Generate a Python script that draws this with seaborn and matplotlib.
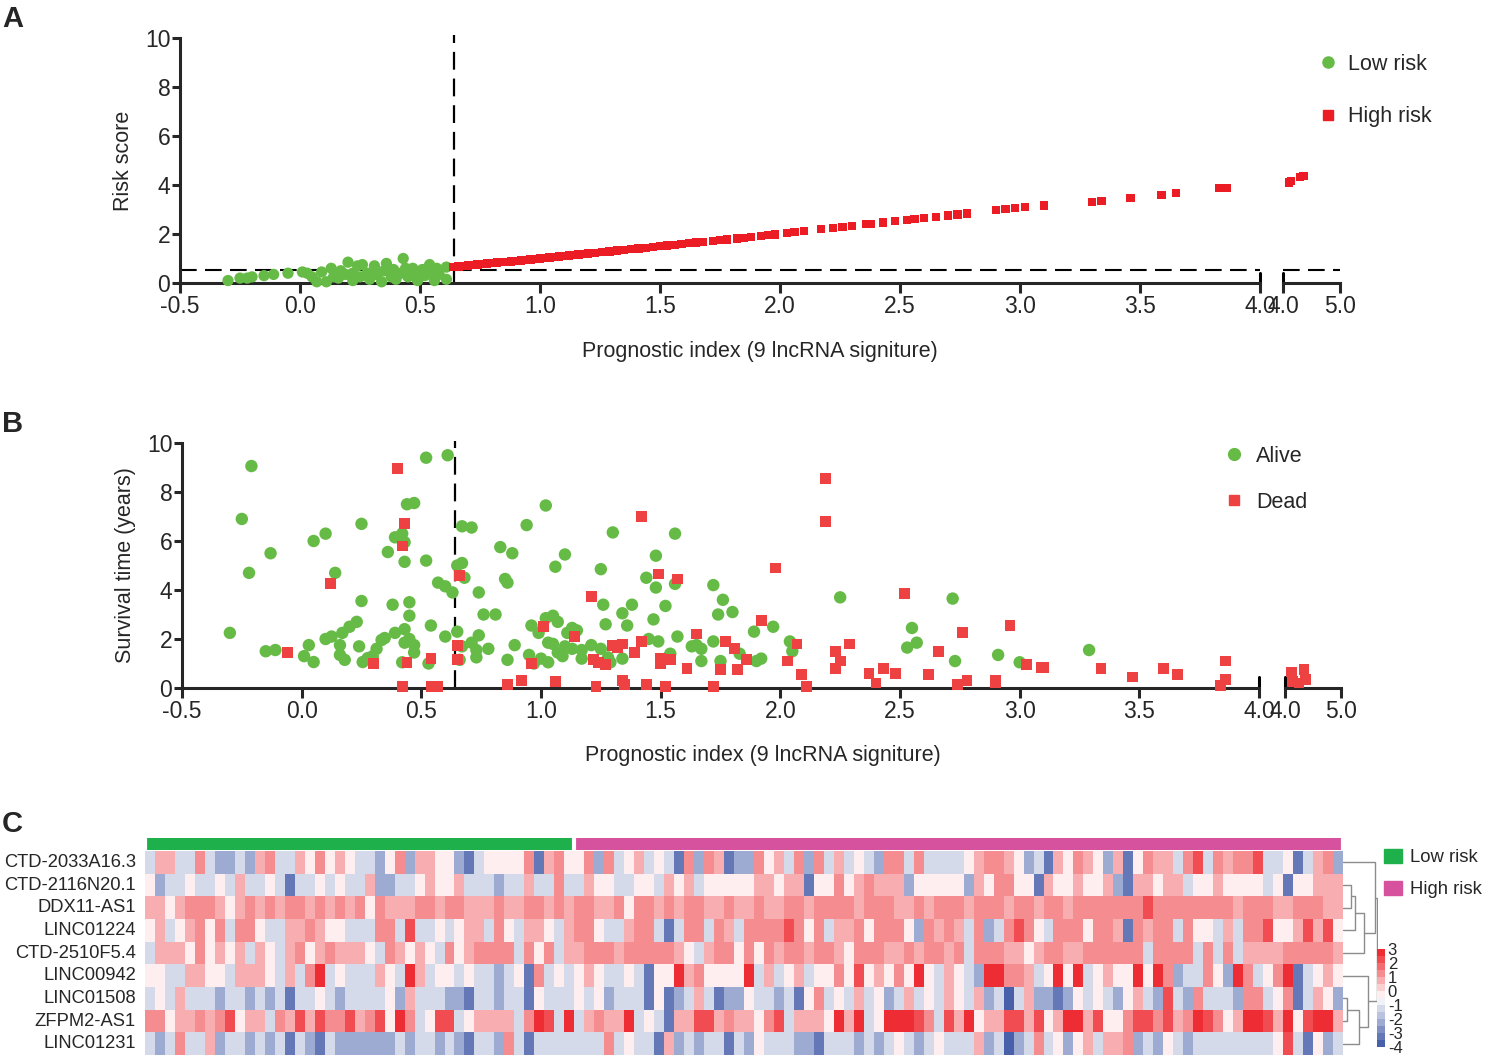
import numpy as np
import pandas as pd
import matplotlib
matplotlib.use("Agg")
import matplotlib.pyplot as plt
import seaborn as sns
from matplotlib.colors import LinearSegmentedColormap, ListedColormap, Normalize
from matplotlib.cm import ScalarMappable
from matplotlib.lines import Line2D
from matplotlib.patches import Patch

sns.set_style("ticks")
plt.rcParams['font.family'] = ['Liberation Sans', 'DejaVu Sans']
plt.rcParams['axes.unicode_minus'] = False

# ---- Panel A: risk score vs prognostic index ----
low_pi = [-0.30, -0.25, -0.22, -0.20, -0.15, -0.11, -0.05, 0.01, 0.03, 0.05, 0.07, 0.09, 0.11,
          0.13, 0.14, 0.16, 0.17, 0.19, 0.20, 0.22, 0.22, 0.24, 0.25, 0.26, 0.28, 0.29, 0.31,
          0.32, 0.34, 0.35, 0.36, 0.38, 0.39, 0.40, 0.42, 0.43, 0.44, 0.45, 0.47, 0.48, 0.49,
          0.51, 0.52, 0.54, 0.55, 0.56, 0.57, 0.58, 0.61, 0.61]
low_score = [0.10, 0.20, 0.20, 0.25, 0.30, 0.35, 0.40, 0.45, 0.40, 0.25, 0.05, 0.45, 0.05,
             0.60, 0.25, 0.20, 0.50, 0.35, 0.85, 0.40, 0.10, 0.70, 0.25, 0.75, 0.40, 0.15, 0.70,
             0.35, 0.05, 0.50, 0.80, 0.25, 0.55, 0.15, 0.40, 1.00, 0.60, 0.25, 0.60, 0.35, 0.10,
             0.55, 0.30, 0.75, 0.40, 0.10, 0.60, 0.35, 0.65, 0.15]

high_pi = [0.64, 0.66, 0.68, 0.70, 0.72, 0.74, 0.76, 0.78, 0.80, 0.82, 0.84, 0.86, 0.88, 0.90,
           0.92, 0.94, 0.96, 0.98, 1.00, 1.02, 1.04, 1.06, 1.08, 1.10, 1.12, 1.14, 1.16, 1.18,
           1.20, 1.23, 1.26, 1.29, 1.32, 1.35, 1.38, 1.41, 1.44, 1.47, 1.50, 1.53, 1.56, 1.59,
           1.62, 1.65, 1.68, 1.72, 1.75, 1.78, 1.82, 1.85, 1.88, 1.92, 1.95, 1.98, 2.03, 2.06,
           2.10, 2.17, 2.22, 2.26, 2.30, 2.36, 2.38, 2.43, 2.48, 2.53, 2.56, 2.60, 2.65, 2.70,
           2.74, 2.78, 2.90, 2.94, 2.98, 3.02, 3.10, 3.30, 3.34, 3.46, 3.59, 3.65, 3.83, 3.86,
           4.10, 4.14, 4.30, 4.36]
high_score = [0.66, 0.67, 0.69, 0.71, 0.73, 0.75, 0.77, 0.79, 0.81, 0.83, 0.85, 0.86, 0.88, 0.90,
              0.92, 0.94, 0.96, 0.98, 1.00, 1.02, 1.04, 1.06, 1.08, 1.10, 1.12, 1.14, 1.16, 1.18,
              1.20, 1.23, 1.26, 1.29, 1.32, 1.35, 1.38, 1.41, 1.44, 1.47, 1.50, 1.53, 1.56, 1.59,
              1.62, 1.65, 1.68, 1.72, 1.75, 1.78, 1.82, 1.85, 1.88, 1.92, 1.95, 1.98, 2.05, 2.08,
              2.12, 2.20, 2.25, 2.29, 2.33, 2.40, 2.42, 2.47, 2.52, 2.58, 2.61, 2.65, 2.70, 2.75,
              2.80, 2.84, 2.97, 3.01, 3.05, 3.09, 3.16, 3.30, 3.34, 3.47, 3.60, 3.66, 3.87, 3.89,
              4.10, 4.15, 4.32, 4.37]

# ---- Panel B: survival time vs prognostic index ----
alive_pi = [-0.21, -0.25, -0.22, -0.13, -0.30, -0.15, -0.11, 0.05, 0.10, 0.14, 0.25, 0.25, 0.03,
            0.01, 0.05, 0.10, 0.125, 0.17, 0.20, 0.23, 0.16, 0.16, 0.18, 0.24, 0.255, 0.276, 0.297,
            0.313, 0.334, 0.347, 0.38, 0.36, 0.39, 0.42, 0.43, 0.44, 0.47, 0.52, 0.61, 0.43, 0.52,
            0.45, 0.45, 0.43, 0.45, 0.43, 0.47, 0.47, 0.39, 0.42, 0.54, 0.53, 0.57, 0.60, 0.63,
            0.60, 0.65, 0.67, 0.71, 0.65, 0.67, 0.68, 0.67, 0.66, 0.71, 0.73, 0.73, 0.74, 0.74,
            0.76, 0.81, 0.78, 0.83, 0.88, 0.85, 0.86, 0.89, 0.86, 0.94, 1.02, 0.96, 0.99, 1.02,
            1.05, 1.07, 0.95, 0.97, 1.00, 1.03, 1.03, 1.05, 1.07, 1.09, 1.10, 1.06, 1.10, 1.13,
            1.17, 1.17, 1.11, 1.13, 1.15, 1.21, 1.25, 1.28, 1.29, 1.25, 1.26, 1.27, 1.30, 1.34,
            1.36, 1.38, 1.34, 1.44, 1.48, 1.48, 1.47, 1.45, 1.49, 1.54, 1.52, 1.56, 1.56, 1.57,
            1.63, 1.65, 1.67, 1.67, 1.72, 1.75, 1.72, 1.76, 1.74, 1.80, 1.83, 1.89, 1.90, 1.92,
            1.97, 2.04, 2.05, 2.25, 2.55, 2.57, 2.53, 2.72, 2.73, 2.91, 3.00, 3.29]
alive_time = [9.06, 6.90, 4.70, 5.50, 2.25, 1.50, 1.55, 6.00, 6.30, 4.70, 6.70, 3.55, 1.75,
              1.30, 1.06, 2.00, 2.10, 2.25, 2.50, 2.70, 1.75, 1.35, 1.15, 1.70, 1.06, 1.22, 1.30,
              1.60, 1.96, 2.04, 3.40, 5.55, 6.15, 6.30, 5.95, 7.50, 7.55, 9.40, 9.50, 5.15, 5.20,
              3.50, 2.95, 2.40, 2.00, 1.85, 1.75, 1.45, 2.25, 1.05, 2.55, 1.00, 4.30, 4.15, 3.90,
              2.10, 2.30, 6.60, 6.55, 5.00, 5.10, 4.50, 1.70, 1.15, 1.85, 1.55, 1.25, 2.15, 3.90,
              3.00, 3.00, 1.60, 5.75, 5.50, 4.45, 4.30, 1.75, 1.15, 6.65, 7.45, 2.55, 2.25, 2.85,
              2.95, 2.70, 1.35, 1.00, 1.20, 1.05, 1.85, 1.80, 1.45, 1.30, 5.45, 4.95, 1.70, 1.60,
              1.55, 1.20, 2.25, 2.45, 2.35, 1.75, 1.60, 1.25, 1.05, 4.85, 3.40, 2.60, 6.35, 3.05,
              2.55, 3.40, 1.20, 4.50, 4.10, 5.40, 2.80, 2.00, 1.90, 1.40, 3.35, 6.30, 4.25, 2.10,
              1.70, 1.75, 1.60, 1.10, 1.90, 1.10, 4.20, 3.60, 3.00, 3.10, 1.40, 2.30, 1.10, 1.20,
              2.50, 1.90, 1.50, 3.70, 2.45, 1.85, 1.65, 3.65, 1.10, 1.35, 1.05, 1.55]

dead_pi = [0.40, 0.43, 0.42, 0.12, -0.06, 0.30, 0.44, 0.54, 0.42, 0.54, 0.57, 0.66, 0.65, 0.65,
           0.86, 0.92, 1.01, 1.06, 1.14, 0.96, 1.21, 1.23, 1.22, 1.24, 1.27, 1.30, 1.32, 1.34,
           1.34, 1.35, 1.39, 1.42, 1.42, 1.44, 1.49, 1.50, 1.54, 1.50, 1.52, 1.57, 1.61, 1.65,
           1.72, 1.75, 1.77, 1.81, 1.82, 2.19, 2.19, 1.98, 1.92, 1.86, 2.03, 2.07, 2.09, 2.11,
           2.23, 2.29, 2.25, 2.23, 2.37, 2.40, 2.43, 2.48, 2.52, 2.62, 2.66, 2.76, 2.74, 2.78,
           2.90, 2.90, 2.96, 3.03, 3.09, 3.10, 3.34, 3.47, 3.60, 3.66, 3.86, 3.86, 3.84,
           4.12, 4.34, 4.14, 4.36, 4.25]
dead_time = [8.95, 6.70, 5.80, 4.25, 1.45, 1.00, 1.05, 1.20, 0.05, 0.05, 0.05, 4.60, 1.75, 1.15,
             0.15, 0.30, 2.50, 0.25, 2.10, 1.00, 3.75, 0.05, 1.15, 1.05, 0.95, 1.75, 1.65, 1.80,
             0.30, 0.15, 1.45, 7.00, 1.90, 0.15, 4.65, 1.20, 1.15, 1.00, 0.05, 4.45, 0.80, 2.20,
             0.05, 0.75, 1.90, 1.60, 0.75, 8.55, 6.80, 4.90, 2.75, 1.15, 1.10, 1.80, 0.55, 0.05,
             1.50, 1.80, 1.10, 0.80, 0.60, 0.20, 0.80, 0.60, 3.85, 0.55, 1.50, 2.25, 0.15, 0.30,
             0.20, 0.30, 2.55, 0.95, 0.85, 0.85, 0.80, 0.45, 0.80, 0.55, 1.10, 0.35, 0.10,
             0.65, 0.75, 0.25, 0.35, 0.20]

cutoff = 0.64

# ---- Panel C: expression heatmap (one digit per cell, see level_values) ----
genes = ["CTD-2033A16.3", "CTD-2116N20.1", "DDX11-AS1", "LINC01224", "CTD-2510F5.4",
         "LINC00942", "LINC01508", "ZFPM2-AS1", "LINC01231"]
level_values = [-3.8, -3.6, -3.2, -2.2, -1.2, -0.2, 0.7, 1.3, 2.2, 2.8]
expr_rows = [
    "46644743343" "6744657565" "4435736655" "3245" "5557267557374564542737623375647"
    "3746454377" "4744445677" "6534265765" "362576647847677844524673",
    "5344544546" "4454244545" "4463344565" "56444" "3446447446" "5544554656" "4555556656" "6"
    "2557567666" "3555553657" "7552655655" "632665664556555545255666",
    "6656777656" "7676776767" "6757666776" "77666" "7667767677" "6675776767" "7667667667" "7"
    "6777767776" "6767776777" "6776776777" "7777877777" "7776777667" "7766",
    "5645675747" "7544667655" "4447748445" "45664" "7546654677" "5446774247" "7476477778" "7"
    "5746675777" "5376764734" "7875477757" "7627677475" "5464778556" "8685",
    "4666575656" "4654675676" "6654765654" "75677" "7747574667" "7767777765" "4677575767" "7"
    "6776577766" "7677674777" "6656776677" "7777477774" "7474666677" "7776",
    "5544665546" "6654647945" "4446549645" "54544" "3452745456" "5445425596" "7555594645" "6"
    "4557585657" "5954654399" "7764595945" "6559597344" "7539745792" "4565",
    "4546444344" "3434244543" "4444536444" "33244" "3442544454" "5344425234" "6423354434" "2"
    "5745464534" "6454654634" "1463323545" "4356438437" "4443774572" "4653",
    "7756676785" "6647686877" "8678597458" "84566" "6647984946" "7669454266" "8867665784" "6"
    "6659694599" "9874869566" "8868569968" "5578878679" "8756998695" "8996",
    "4347446344" "3434243243" "3333343443" "43244" "3742444444" "4745442634" "3442435444" "3"
    "3244434345" "4345444634" "1347453564" "6673435434" "4444444584" "2534",
]
n_low = 43  # first columns are low-risk samples

# row dendrogram: (left, right, height); leaves 0-8 in display order
row_linkage = [(1, 2, 22), (6, 7, 10), (9, 3, 35), (10, 8, 45),
               (11, 4, 60), (5, 12, 70), (0, 13, 92), (15, 14, 98)]

GREEN = "#66bb46"
RED_A = "#ec1c24"
RED_B = "#ee4242"
ANN_GREEN = "#1db04b"
ANN_PINK = "#d6529e"

TICK_FS = 16.5
LABEL_FS = 15.5
LEG_FS = 15.5

W, H = 1487, 1057


def px_box(x0, y0, x1, y1):
    return [x0 / W, 1 - y1 / H, (x1 - x0) / W, (y1 - y0) / H]


def style_ax(ax, xlim, xticks, first=True):
    ax.set_xlim(*xlim)
    ax.set_ylim(0, 10)
    ax.set_xticks(xticks)
    ax.set_xticklabels([f"{t:.1f}" for t in xticks])
    for s in ax.spines.values():
        s.set_linewidth(2.2)
    ax.spines['top'].set_visible(False)
    ax.spines['right'].set_visible(False)
    ax.tick_params(width=2.2, length=7, labelsize=TICK_FS, pad=2)
    if first:
        ax.set_yticks([0, 2, 4, 6, 8, 10])
        ax.tick_params(axis='y', length=6, pad=1)
    else:
        ax.spines['left'].set_visible(False)
        ax.tick_params(axis='y', left=False, labelleft=False)
    ax.set_xlabel("")
    ax.set_ylabel("")
    ax.patch.set_alpha(0)


fig = plt.figure(figsize=(W / 100, H / 100), dpi=100)

# ---------------- Panel A ----------------
dfA_low = pd.DataFrame({"pi": low_pi, "score": low_score})
dfA_high = pd.DataFrame({"pi": high_pi, "score": high_score})

axA = fig.add_axes(px_box(180, 38, 1260, 283))
axA2 = fig.add_axes(px_box(1283, 38, 1340, 283))
for ax, lo, hi in [(axA, -1, 4.0), (axA2, 4.0, 9)]:
    sub_l = dfA_low[(dfA_low.pi > lo) & (dfA_low.pi <= hi)]
    sub_h = dfA_high[(dfA_high.pi > lo) & (dfA_high.pi <= hi)]
    if len(sub_l):
        sns.scatterplot(data=sub_l, x="pi", y="score", ax=ax, color=GREEN, marker="o",
                        s=66, edgecolor="none", legend=False, clip_on=False, zorder=3)
    sns.scatterplot(data=sub_h, x="pi", y="score", ax=ax, color=RED_A, marker="s",
                    s=36, edgecolor="none", legend=False, clip_on=False, zorder=3)
    ax.axhline(0.55, color="k", lw=1.5, ls=(0, (8, 4)), zorder=2)
style_ax(axA, (-0.5, 4.0), [-0.5, 0.0, 0.5, 1.0, 1.5, 2.0, 2.5, 3.0, 3.5, 4.0])
style_ax(axA2, (4.0, 5.0), [4.0, 5.0], first=False)
axA.axvline(cutoff, ymin=0, ymax=1.012, color="k", lw=1.6, ls=(0, (8, 4)), clip_on=False)
for ax in (axA, axA2):
    ax.axvline(4.0, ymin=0, ymax=0.04, color="k", lw=2.2, clip_on=False)
axA.set_ylabel("Risk score", fontsize=LABEL_FS, labelpad=8)
fig.text(760 / W, 1 - 351 / H, "Prognostic index (9 lncRNA signiture)", ha="center",
         va="center", fontsize=LABEL_FS)
fig.legend(handles=[Line2D([], [], marker="o", ls="none", color=GREEN, markersize=8),
                    Line2D([], [], marker="s", ls="none", color=RED_A, markersize=6.5)],
           labels=["Low risk", "High risk"], loc="upper left",
           bbox_to_anchor=(1318 / W, 1 - 54 / H), frameon=False, fontsize=LEG_FS,
           labelspacing=1.45, handlelength=0.9, handletextpad=0.5,
           borderpad=0, borderaxespad=0)

# ---------------- Panel B ----------------
dfB_alive = pd.DataFrame({"pi": alive_pi, "time": alive_time})
dfB_dead = pd.DataFrame({"pi": dead_pi, "time": dead_time})

axB = fig.add_axes(px_box(182, 443, 1259, 688))
axB2 = fig.add_axes(px_box(1285, 443, 1341, 688))
for ax, lo, hi in [(axB, -1, 4.0), (axB2, 4.0, 9)]:
    sub_a = dfB_alive[(dfB_alive.pi > lo) & (dfB_alive.pi <= hi)]
    sub_d = dfB_dead[(dfB_dead.pi > lo) & (dfB_dead.pi <= hi)]
    if len(sub_a):
        sns.scatterplot(data=sub_a, x="pi", y="time", ax=ax, color=GREEN, marker="o",
                        s=80, edgecolor="none", legend=False, clip_on=False, zorder=3)
    sns.scatterplot(data=sub_d, x="pi", y="time", ax=ax, color=RED_B, marker="s",
                    s=60, edgecolor="none", legend=False, clip_on=False, zorder=3)
style_ax(axB, (-0.5, 4.0), [-0.5, 0.0, 0.5, 1.0, 1.5, 2.0, 2.5, 3.0, 3.5, 4.0])
style_ax(axB2, (4.0, 5.0), [4.0, 5.0], first=False)
axB.axvline(cutoff, ymin=0, ymax=1.01, color="k", lw=1.6, ls=(0, (8, 4)), clip_on=False)
for ax in (axB, axB2):
    ax.axvline(4.0, ymin=0, ymax=0.045, color="k", lw=2.2, clip_on=False)
axB.set_ylabel("Survival time (years)", fontsize=LABEL_FS, labelpad=8)
fig.text(763 / W, 1 - 756 / H, "Prognostic index (9 lncRNA signiture)", ha="center",
         va="center", fontsize=LABEL_FS)
fig.legend(handles=[Line2D([], [], marker="o", ls="none", color=GREEN, markersize=8.5),
                    Line2D([], [], marker="s", ls="none", color=RED_B, markersize=7.5)],
           labels=["Alive", "Dead"], loc="upper left",
           bbox_to_anchor=(1224 / W, 1 - 446 / H), frameon=False, fontsize=LEG_FS,
           labelspacing=1.15, handlelength=0.9, handletextpad=0.6,
           borderpad=0, borderaxespad=0)

# ---------------- Panel C ----------------
expr = pd.DataFrame([[level_values[int(c)] for c in row] for row in expr_rows], index=genes)
base = LinearSegmentedColormap.from_list("bwr_ph", ["#3a54a4", "#ffffff", "#ec1c24"])
cmap14 = ListedColormap(base((np.arange(14) + 0.5) / 14))

axC = fig.add_axes(px_box(145, 851, 1343, 1055))
sns.heatmap(expr, ax=axC, cmap=cmap14, vmin=-4, vmax=3, cbar=False,
            xticklabels=False, yticklabels=genes)
axC.tick_params(left=False, bottom=False, labelsize=13.2, pad=3)
axC.set_yticklabels(genes, rotation=0)

n_cols = expr.shape[1]
groups = pd.DataFrame([[0 if i < n_low else 1 for i in range(n_cols)]])
axAnn = fig.add_axes(px_box(145, 838, 1343, 850))
sns.heatmap(groups, ax=axAnn, cmap=ListedColormap([ANN_GREEN, ANN_PINK]), vmin=0, vmax=1,
            cbar=False, xticklabels=False, yticklabels=False)
axAnn.axvline(n_low, color="white", lw=3)
axAnn.axvline(0, color="white", lw=3)
axAnn.axvline(n_cols, color="white", lw=3)

# row dendrogram
axD = fig.add_axes(px_box(1343, 851, 1378, 1055))
pos = {i: i + 0.5 for i in range(len(genes))}
hgt = {i: 0 for i in range(len(genes))}
node = len(genes)
for left, right, h in row_linkage:
    axD.plot([hgt[left], h, h, hgt[right]], [pos[left], pos[left], pos[right], pos[right]],
             color="#8c8c8c", lw=1.0)
    pos[node] = (pos[left] + pos[right]) / 2
    hgt[node] = h
    node += 1
axD.set_ylim(len(genes), 0)
axD.set_xlim(0, 100)
axD.axis("off")

# colour key
caxC = fig.add_axes(px_box(1377, 949, 1385, 1047))
cb = fig.colorbar(ScalarMappable(norm=Normalize(-4, 3), cmap=cmap14), cax=caxC)
cb.outline.set_visible(False)
cb.set_ticks([3, 2, 1, 0, -1, -2, -3, -4])
cb.ax.tick_params(length=0, labelsize=12, pad=2)

fig.legend(handles=[Patch(color=ANN_GREEN), Patch(color=ANN_PINK)],
           labels=["Low risk", "High risk"], loc="upper left",
           bbox_to_anchor=(1384 / W, 1 - 849 / H), frameon=False, fontsize=13.3,
           labelspacing=0.8, handlelength=1.0, handleheight=0.75, handletextpad=0.4,
           borderpad=0, borderaxespad=0)

# panel letters
for letter, y in [("A", 27), ("B", 432), ("C", 832)]:
    fig.text(2 / W, 1 - y / H, letter, fontsize=21, fontweight="bold", va="baseline")

fig.savefig("out.png", dpi=100)
